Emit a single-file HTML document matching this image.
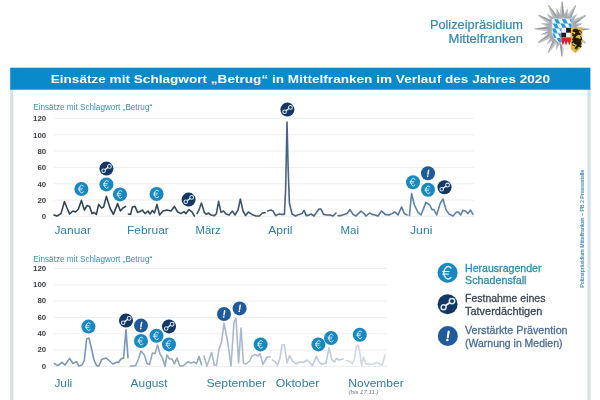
<!DOCTYPE html>
<html lang="de"><head><meta charset="utf-8"><title>Einsätze mit Schlagwort Betrug</title>
<style>
html,body{margin:0;padding:0;background:#fff;}
body{width:600px;height:400px;overflow:hidden;font-family:"Liberation Sans", sans-serif;}
svg{display:block;font-family:"Liberation Sans", sans-serif;will-change:transform;filter:blur(0.4px);}
</style></head><body>
<svg width="600" height="400" viewBox="0 0 600 400">
<rect width="600" height="400" fill="#ffffff"/>
<rect x="10.2" y="89" width="3.2" height="311" fill="#d2e2e8"/>
<rect x="587.4" y="89" width="3.2" height="311" fill="#d2e2e8"/>
<rect x="10.2" y="67.7" width="580.2" height="22" fill="#0a8acb"/>
<text x="50.7" y="83" font-size="11" fill="#ffffff" font-weight="bold" textLength="499.3" lengthAdjust="spacingAndGlyphs">Einsätze mit Schlagwort „Betrug“ in Mittelfranken im Verlauf des Jahres 2020</text>
<text x="429.9" y="28.7" font-size="12.7" fill="#3089b6" textLength="93.1" lengthAdjust="spacingAndGlyphs" stroke="#3089b6" stroke-width="0.2">Polizeipräsidium</text>
<text x="448.6" y="42.7" font-size="12.7" fill="#3089b6" textLength="74.4" lengthAdjust="spacingAndGlyphs" stroke="#3089b6" stroke-width="0.2">Mittelfranken</text>
<line x1="54" y1="118.40" x2="474" y2="118.40" stroke="#ecedef" stroke-width="1"/>
<text x="46.2" y="121.25" font-size="7.9" fill="#3f4248" font-weight="bold" text-anchor="end">120</text>
<line x1="54" y1="134.73" x2="474" y2="134.73" stroke="#ecedef" stroke-width="1"/>
<text x="46.2" y="137.58" font-size="7.9" fill="#3f4248" font-weight="bold" text-anchor="end">100</text>
<line x1="54" y1="151.06" x2="474" y2="151.06" stroke="#ecedef" stroke-width="1"/>
<text x="46.2" y="153.91" font-size="7.9" fill="#3f4248" font-weight="bold" text-anchor="end">80</text>
<line x1="54" y1="167.39" x2="474" y2="167.39" stroke="#ecedef" stroke-width="1"/>
<text x="46.2" y="170.24" font-size="7.9" fill="#3f4248" font-weight="bold" text-anchor="end">60</text>
<line x1="54" y1="183.72" x2="474" y2="183.72" stroke="#ecedef" stroke-width="1"/>
<text x="46.2" y="186.57" font-size="7.9" fill="#3f4248" font-weight="bold" text-anchor="end">40</text>
<line x1="54" y1="200.05" x2="474" y2="200.05" stroke="#ecedef" stroke-width="1"/>
<text x="46.2" y="202.9" font-size="7.9" fill="#3f4248" font-weight="bold" text-anchor="end">20</text>
<line x1="54" y1="216.38" x2="474" y2="216.38" stroke="#ecedef" stroke-width="1"/>
<text x="46.2" y="219.23" font-size="7.9" fill="#3f4248" font-weight="bold" text-anchor="end">0</text>
<text x="33.2" y="109.7" font-size="9.0" fill="#3a8fb9" textLength="119" lengthAdjust="spacingAndGlyphs">Einsätze mit Schlagwort „Betrug“</text>
<line x1="54" y1="268.40" x2="387" y2="268.40" stroke="#ecedef" stroke-width="1"/>
<text x="46.2" y="270.75" font-size="7.9" fill="#3f4248" font-weight="bold" text-anchor="end">120</text>
<line x1="54" y1="284.73" x2="387" y2="284.73" stroke="#ecedef" stroke-width="1"/>
<text x="46.2" y="287.08" font-size="7.9" fill="#3f4248" font-weight="bold" text-anchor="end">100</text>
<line x1="54" y1="301.06" x2="387" y2="301.06" stroke="#ecedef" stroke-width="1"/>
<text x="46.2" y="303.41" font-size="7.9" fill="#3f4248" font-weight="bold" text-anchor="end">80</text>
<line x1="54" y1="317.39" x2="387" y2="317.39" stroke="#ecedef" stroke-width="1"/>
<text x="46.2" y="319.74" font-size="7.9" fill="#3f4248" font-weight="bold" text-anchor="end">60</text>
<line x1="54" y1="333.72" x2="387" y2="333.72" stroke="#ecedef" stroke-width="1"/>
<text x="46.2" y="336.07" font-size="7.9" fill="#3f4248" font-weight="bold" text-anchor="end">40</text>
<line x1="54" y1="350.05" x2="387" y2="350.05" stroke="#ecedef" stroke-width="1"/>
<text x="46.2" y="352.4" font-size="7.9" fill="#3f4248" font-weight="bold" text-anchor="end">20</text>
<line x1="54" y1="366.38" x2="387" y2="366.38" stroke="#ecedef" stroke-width="1"/>
<text x="46.2" y="368.73" font-size="7.9" fill="#3f4248" font-weight="bold" text-anchor="end">0</text>
<text x="33.2" y="262.3" font-size="9.0" fill="#3a8fb9" textLength="119" lengthAdjust="spacingAndGlyphs">Einsätze mit Schlagwort „Betrug“</text>
<path d="M54,215 L57,216 L61,213.6 L64.4,201.6 L67,208 L69.6,214 L73,211 L75.6,212 L78.4,209 L81.4,200.4 L84.4,210 L87,205.6 L89.6,206.4 L92,213.6 L94,212.4 L96.4,214.4 L98.6,204.4 L101.6,208 L103.6,207 L106.4,196.4 L110,208 L113.4,214.4 L117.6,203.6 L120.4,211 L123,208 L125.6,206.4" fill="none" stroke="#2f4458" stroke-width="1.6" stroke-linejoin="round" stroke-linecap="round"/>
<path d="M128.4,214 L130.6,214.4 L132.4,207 L135,206.4 L137.6,212.4 L140,211.6 L142.4,210 L145,213.6 L148,211 L150,214 L152.4,210.4 L154.4,213 L157,204.4 L159.6,215 L163,211 L167,210 L171,211 L174.4,206.4 L177.6,212 L181,213.6 L184,211.6 L186,213.6 L189,209.6 L192,212 L194.4,216" fill="none" stroke="#34495f" stroke-width="1.6" stroke-linejoin="round" stroke-linecap="round"/>
<path d="M197,213.6 L199,210 L201.4,203 L204.4,212.4 L206.4,214.4 L208.4,213 L211,215 L214.4,215.6 L216.4,213.6 L218.6,201.4 L221,212.4 L223.6,211 L226,214 L229,215 L232.4,211 L235,215 L238,210 L240.4,199 L243,211 L245.6,215.6 L248.4,212 L252,214.4 L256,216 L259.4,216 L262.4,213 L265,212.6" fill="none" stroke="#3d556f" stroke-width="1.6" stroke-linejoin="round" stroke-linecap="round"/>
<path d="M267.6,211 L271,210 L273,211 L275.6,215.6 L279,214 L281.6,214.4 L284.4,214.4 L285.6,190 L287,122 L288.2,170 L289.4,203 L292,214 L295.6,216 L299,214.4 L302,213.6 L304,210.4 L306.4,215.6 L309,215 L311,214 L314,216 L316.6,212.4 L319,209 L321,209 L323.6,214.4 L327,215 L330,215 L333,216 L336,213" fill="none" stroke="#466588" stroke-width="1.6" stroke-linejoin="round" stroke-linecap="round"/>
<path d="M338,215.6 L341,215.6 L344,214.4 L347,213.6 L350,209.6 L353,214.4 L356,216 L358.4,213.6 L361,211 L364,213.6 L366,216 L369.6,213 L372,214.4 L375,215 L378,216 L381.6,211 L385,214.4 L389,215 L392,213.6 L395,212 L398,215 L401.6,207 L404.4,213.6 L407,215" fill="none" stroke="#52759b" stroke-width="1.6" stroke-linejoin="round" stroke-linecap="round"/>
<path d="M409.4,215.6 L411.6,193.6 L414.4,205 L418,212.4 L421,215 L426,202.4 L429.6,205 L432,209.6 L434,209.6 L436.6,215 L440.4,203 L443,199 L446,209.6 L449,214 L453,216 L456,212.4 L458.4,212 L460.6,215 L463,210.4 L465.6,211 L468,213.6 L470.4,210 L473,214.4" fill="none" stroke="#5d84ad" stroke-width="1.6" stroke-linejoin="round" stroke-linecap="round"/>
<path d="M54.4,363.6 L58,365.6 L62,362.4 L65,365 L69.6,358.4 L73,363.6 L76.4,361.6 L79,366 L82,365 L84.4,360 L86.6,339 L89,338 L91.6,349 L94,360 L96.6,365.6 L99,366 L101.6,359.6 L106,358 L109.6,361 L113,364 L116,362.4 L118.4,362.4 L121,359 L123.6,358 L126,329.6 L128,357.6" fill="none" stroke="#7a95b5" stroke-width="1.6" stroke-linejoin="round" stroke-linecap="round"/>
<path d="M130.4,366 L135.6,365.6 L138,360 L141,351 L144.4,355 L147,363.6 L149.6,364.4 L152.4,353 L155,353.6 L157.6,345 L160,354 L162.4,358 L165,366 L167,355 L169.6,359 L172,359 L174.4,364 L177,358 L179.6,365.6 L183,366 L188,361.6 L191,363 L194,362 L196.6,363.6 L199,356.4 L201.6,365" fill="none" stroke="#92a7c3" stroke-width="1.6" stroke-linejoin="round" stroke-linecap="round"/>
<path d="M204,356 L207,366 L211.6,352.4 L214.4,365 L216.4,365.6 L219,349 L221.6,342 L224,323 L228,344 L231,366 L234,322 L236,318.4 L238.6,363 L241,328 L243.4,363 L246,364 L249.6,361 L252,356 L255,354.4 L258,356 L260,353.6 L263,364.4 L267,357 L270,357" fill="none" stroke="#aab8d1" stroke-width="1.6" stroke-linejoin="round" stroke-linecap="round"/>
<path d="M272.4,360 L275,361.6 L277.6,365 L280,358 L282,345 L284.4,345 L287,363 L289.6,355.6 L292.4,361 L296,364 L300,362 L303.6,362.4 L307,360 L309.6,362.4 L312.4,365.6 L316.4,356.4 L319,362 L322,364.4 L326,363 L329,347.6 L332,360 L334.4,362 L336.4,358.4 L339,360 L343,359" fill="none" stroke="#bfcadc" stroke-width="1.6" stroke-linejoin="round" stroke-linecap="round"/>
<path d="M346.4,360.4 L350,361.6 L352.4,363.6 L354.4,359 L356.4,347 L358.4,345 L360,354 L361.6,365.6 L363.4,357 L365.6,363.6 L369,364.4 L373,364 L377,362.4 L380,364.4 L382.4,365 L385,355" fill="none" stroke="#d0d8e5" stroke-width="1.6" stroke-linejoin="round" stroke-linecap="round"/>
<text x="54.4" y="233.9" font-size="11.5" fill="#2f7fa8" textLength="36.6" lengthAdjust="spacingAndGlyphs">Januar</text>
<text x="127.0" y="233.9" font-size="11.5" fill="#2f7fa8" textLength="41.8" lengthAdjust="spacingAndGlyphs">Februar</text>
<text x="195.6" y="233.9" font-size="11.5" fill="#2f7fa8" textLength="25.2" lengthAdjust="spacingAndGlyphs">März</text>
<text x="268.2" y="233.9" font-size="11.5" fill="#2f7fa8" textLength="24.2" lengthAdjust="spacingAndGlyphs">April</text>
<text x="340.5" y="233.9" font-size="11.5" fill="#2f7fa8" textLength="18.5" lengthAdjust="spacingAndGlyphs">Mai</text>
<text x="410.0" y="233.9" font-size="11.5" fill="#2f7fa8" textLength="22.4" lengthAdjust="spacingAndGlyphs">Juni</text>
<text x="54.4" y="386.8" font-size="11.5" fill="#2f7fa8" textLength="17.8" lengthAdjust="spacingAndGlyphs">Juli</text>
<text x="130.6" y="386.8" font-size="11.5" fill="#2f7fa8" textLength="37.0" lengthAdjust="spacingAndGlyphs">August</text>
<text x="206.4" y="386.8" font-size="11.5" fill="#2f7fa8" textLength="59.8" lengthAdjust="spacingAndGlyphs">September</text>
<text x="275.8" y="386.8" font-size="11.5" fill="#2f7fa8" textLength="43.6" lengthAdjust="spacingAndGlyphs">Oktober</text>
<text x="348.3" y="386.8" font-size="11.5" fill="#2f7fa8" textLength="55.4" lengthAdjust="spacingAndGlyphs">November</text>
<text x="348.5" y="394.2" font-size="5.4" fill="#6d7780" font-style="italic" textLength="30" lengthAdjust="spacingAndGlyphs">(bis 17.11.)</text>
<text x="465" y="271.6" font-size="10.6" fill="#2f8ab2" textLength="76.5" lengthAdjust="spacingAndGlyphs" stroke="#2f8ab2" stroke-width="0.28">Herausragender</text>
<text x="465" y="283.9" font-size="10.6" fill="#2f8ab2" textLength="61.5" lengthAdjust="spacingAndGlyphs" stroke="#2f8ab2" stroke-width="0.28">Schadensfall</text>
<text x="465" y="301.9" font-size="10.6" fill="#3a4653" textLength="80.4" lengthAdjust="spacingAndGlyphs" stroke="#3a4653" stroke-width="0.28">Festnahme eines</text>
<text x="465" y="314.5" font-size="10.6" fill="#3a4653" textLength="77.4" lengthAdjust="spacingAndGlyphs" stroke="#3a4653" stroke-width="0.28">Tatverdächtigen</text>
<text x="465" y="334.3" font-size="10.6" fill="#4a6c95" textLength="102.6" lengthAdjust="spacingAndGlyphs" stroke="#4a6c95" stroke-width="0.28">Verstärkte Prävention</text>
<text x="465" y="346.9" font-size="10.6" fill="#4a6c95" textLength="97.5" lengthAdjust="spacingAndGlyphs" stroke="#4a6c95" stroke-width="0.28">(Warnung in Medien)</text>
<text transform="translate(583.8,287.8) rotate(-90)" font-size="5.2" fill="#3f8db6" stroke="#3f8db6" stroke-width="0.12" textLength="118" lengthAdjust="spacingAndGlyphs">Polizeipräsidium Mittelfranken – PB 2 Pressestelle</text>
<g transform="translate(81.4,189) scale(0.700)"><circle r="10.6" fill="#eef8fc"/><circle r="10" fill="#1a88c0"/><g transform="scale(0.88)"><path d="M3.3,-4.75 A4.2,6.2 0 1 0 3.3,4.75" fill="none" stroke="#dcf3ff" stroke-width="1.5" stroke-linecap="round"/><path d="M-4.9,-1.3 H1.5 M-4.9,1.3 H0.9" fill="none" stroke="#dcf3ff" stroke-width="1.2" stroke-linecap="round"/></g></g>
<g transform="translate(106.4,168.6) scale(0.700)"><circle r="10.6" fill="#eef8fc"/><circle r="10" fill="#143763"/><circle cx="-4.0" cy="3.0" r="2.5" fill="none" stroke="#dbe8f5" stroke-width="1.5"/><circle cx="4.4" cy="-3.1" r="2.7" fill="none" stroke="#dbe8f5" stroke-width="1.5"/><path d="M-1.5,1.1 L1.7,-1.2" stroke="#eef5fc" stroke-width="1.9" stroke-linecap="round"/></g>
<g transform="translate(106.4,184.4) scale(0.700)"><circle r="10.6" fill="#eef8fc"/><circle r="10" fill="#1a88c0"/><g transform="scale(0.88)"><path d="M3.3,-4.75 A4.2,6.2 0 1 0 3.3,4.75" fill="none" stroke="#dcf3ff" stroke-width="1.5" stroke-linecap="round"/><path d="M-4.9,-1.3 H1.5 M-4.9,1.3 H0.9" fill="none" stroke="#dcf3ff" stroke-width="1.2" stroke-linecap="round"/></g></g>
<g transform="translate(120,194.4) scale(0.700)"><circle r="10.6" fill="#eef8fc"/><circle r="10" fill="#1a88c0"/><g transform="scale(0.88)"><path d="M3.3,-4.75 A4.2,6.2 0 1 0 3.3,4.75" fill="none" stroke="#dcf3ff" stroke-width="1.5" stroke-linecap="round"/><path d="M-4.9,-1.3 H1.5 M-4.9,1.3 H0.9" fill="none" stroke="#dcf3ff" stroke-width="1.2" stroke-linecap="round"/></g></g>
<g transform="translate(156.6,194) scale(0.700)"><circle r="10.6" fill="#eef8fc"/><circle r="10" fill="#1a88c0"/><g transform="scale(0.88)"><path d="M3.3,-4.75 A4.2,6.2 0 1 0 3.3,4.75" fill="none" stroke="#dcf3ff" stroke-width="1.5" stroke-linecap="round"/><path d="M-4.9,-1.3 H1.5 M-4.9,1.3 H0.9" fill="none" stroke="#dcf3ff" stroke-width="1.2" stroke-linecap="round"/></g></g>
<g transform="translate(188.6,199.6) scale(0.700)"><circle r="10.6" fill="#eef8fc"/><circle r="10" fill="#143763"/><circle cx="-4.0" cy="3.0" r="2.5" fill="none" stroke="#dbe8f5" stroke-width="1.5"/><circle cx="4.4" cy="-3.1" r="2.7" fill="none" stroke="#dbe8f5" stroke-width="1.5"/><path d="M-1.5,1.1 L1.7,-1.2" stroke="#eef5fc" stroke-width="1.9" stroke-linecap="round"/></g>
<g transform="translate(287.4,109.6) scale(0.700)"><circle r="10.6" fill="#eef8fc"/><circle r="10" fill="#143763"/><circle cx="-4.0" cy="3.0" r="2.5" fill="none" stroke="#dbe8f5" stroke-width="1.5"/><circle cx="4.4" cy="-3.1" r="2.7" fill="none" stroke="#dbe8f5" stroke-width="1.5"/><path d="M-1.5,1.1 L1.7,-1.2" stroke="#eef5fc" stroke-width="1.9" stroke-linecap="round"/></g>
<g transform="translate(413,182.2) scale(0.700)"><circle r="10.6" fill="#eef8fc"/><circle r="10" fill="#1a88c0"/><g transform="scale(0.88)"><path d="M3.3,-4.75 A4.2,6.2 0 1 0 3.3,4.75" fill="none" stroke="#dcf3ff" stroke-width="1.5" stroke-linecap="round"/><path d="M-4.9,-1.3 H1.5 M-4.9,1.3 H0.9" fill="none" stroke="#dcf3ff" stroke-width="1.2" stroke-linecap="round"/></g></g>
<g transform="translate(428,173.3) scale(0.700)"><circle r="10.6" fill="#eef8fc"/><circle r="10" fill="#1f5a9a"/><path d="M0.9,-4.5 L0.0,1.2" stroke="#ffffff" stroke-width="2.1" stroke-linecap="round"/><circle cx="-0.45" cy="4.0" r="1.25" fill="#ffffff"/></g>
<g transform="translate(428,189.8) scale(0.700)"><circle r="10.6" fill="#eef8fc"/><circle r="10" fill="#1a88c0"/><g transform="scale(0.88)"><path d="M3.3,-4.75 A4.2,6.2 0 1 0 3.3,4.75" fill="none" stroke="#dcf3ff" stroke-width="1.5" stroke-linecap="round"/><path d="M-4.9,-1.3 H1.5 M-4.9,1.3 H0.9" fill="none" stroke="#dcf3ff" stroke-width="1.2" stroke-linecap="round"/></g></g>
<g transform="translate(444.5,187.2) scale(0.700)"><circle r="10.6" fill="#eef8fc"/><circle r="10" fill="#143763"/><circle cx="-4.0" cy="3.0" r="2.5" fill="none" stroke="#dbe8f5" stroke-width="1.5"/><circle cx="4.4" cy="-3.1" r="2.7" fill="none" stroke="#dbe8f5" stroke-width="1.5"/><path d="M-1.5,1.1 L1.7,-1.2" stroke="#eef5fc" stroke-width="1.9" stroke-linecap="round"/></g>
<g transform="translate(88.4,326.6) scale(0.700)"><circle r="10.6" fill="#eef8fc"/><circle r="10" fill="#1a88c0"/><g transform="scale(0.88)"><path d="M3.3,-4.75 A4.2,6.2 0 1 0 3.3,4.75" fill="none" stroke="#dcf3ff" stroke-width="1.5" stroke-linecap="round"/><path d="M-4.9,-1.3 H1.5 M-4.9,1.3 H0.9" fill="none" stroke="#dcf3ff" stroke-width="1.2" stroke-linecap="round"/></g></g>
<g transform="translate(126,320.6) scale(0.700)"><circle r="10.6" fill="#eef8fc"/><circle r="10" fill="#143763"/><circle cx="-4.0" cy="3.0" r="2.5" fill="none" stroke="#dbe8f5" stroke-width="1.5"/><circle cx="4.4" cy="-3.1" r="2.7" fill="none" stroke="#dbe8f5" stroke-width="1.5"/><path d="M-1.5,1.1 L1.7,-1.2" stroke="#eef5fc" stroke-width="1.9" stroke-linecap="round"/></g>
<g transform="translate(141,325.6) scale(0.700)"><circle r="10.6" fill="#eef8fc"/><circle r="10" fill="#1f5a9a"/><path d="M0.9,-4.5 L0.0,1.2" stroke="#ffffff" stroke-width="2.1" stroke-linecap="round"/><circle cx="-0.45" cy="4.0" r="1.25" fill="#ffffff"/></g>
<g transform="translate(141,341) scale(0.700)"><circle r="10.6" fill="#eef8fc"/><circle r="10" fill="#1a88c0"/><g transform="scale(0.88)"><path d="M3.3,-4.75 A4.2,6.2 0 1 0 3.3,4.75" fill="none" stroke="#dcf3ff" stroke-width="1.5" stroke-linecap="round"/><path d="M-4.9,-1.3 H1.5 M-4.9,1.3 H0.9" fill="none" stroke="#dcf3ff" stroke-width="1.2" stroke-linecap="round"/></g></g>
<g transform="translate(156.5,335.8) scale(0.700)"><circle r="10.6" fill="#eef8fc"/><circle r="10" fill="#1a88c0"/><g transform="scale(0.88)"><path d="M3.3,-4.75 A4.2,6.2 0 1 0 3.3,4.75" fill="none" stroke="#dcf3ff" stroke-width="1.5" stroke-linecap="round"/><path d="M-4.9,-1.3 H1.5 M-4.9,1.3 H0.9" fill="none" stroke="#dcf3ff" stroke-width="1.2" stroke-linecap="round"/></g></g>
<g transform="translate(169,326.4) scale(0.700)"><circle r="10.6" fill="#eef8fc"/><circle r="10" fill="#143763"/><circle cx="-4.0" cy="3.0" r="2.5" fill="none" stroke="#dbe8f5" stroke-width="1.5"/><circle cx="4.4" cy="-3.1" r="2.7" fill="none" stroke="#dbe8f5" stroke-width="1.5"/><path d="M-1.5,1.1 L1.7,-1.2" stroke="#eef5fc" stroke-width="1.9" stroke-linecap="round"/></g>
<g transform="translate(169,344.4) scale(0.700)"><circle r="10.6" fill="#eef8fc"/><circle r="10" fill="#1a88c0"/><g transform="scale(0.88)"><path d="M3.3,-4.75 A4.2,6.2 0 1 0 3.3,4.75" fill="none" stroke="#dcf3ff" stroke-width="1.5" stroke-linecap="round"/><path d="M-4.9,-1.3 H1.5 M-4.9,1.3 H0.9" fill="none" stroke="#dcf3ff" stroke-width="1.2" stroke-linecap="round"/></g></g>
<g transform="translate(224,314) scale(0.700)"><circle r="10.6" fill="#eef8fc"/><circle r="10" fill="#1f5a9a"/><path d="M0.9,-4.5 L0.0,1.2" stroke="#ffffff" stroke-width="2.1" stroke-linecap="round"/><circle cx="-0.45" cy="4.0" r="1.25" fill="#ffffff"/></g>
<g transform="translate(239.6,308.4) scale(0.700)"><circle r="10.6" fill="#eef8fc"/><circle r="10" fill="#1f5a9a"/><path d="M0.9,-4.5 L0.0,1.2" stroke="#ffffff" stroke-width="2.1" stroke-linecap="round"/><circle cx="-0.45" cy="4.0" r="1.25" fill="#ffffff"/></g>
<g transform="translate(260.6,344.4) scale(0.700)"><circle r="10.6" fill="#eef8fc"/><circle r="10" fill="#1a88c0"/><g transform="scale(0.88)"><path d="M3.3,-4.75 A4.2,6.2 0 1 0 3.3,4.75" fill="none" stroke="#dcf3ff" stroke-width="1.5" stroke-linecap="round"/><path d="M-4.9,-1.3 H1.5 M-4.9,1.3 H0.9" fill="none" stroke="#dcf3ff" stroke-width="1.2" stroke-linecap="round"/></g></g>
<g transform="translate(318.4,344.4) scale(0.700)"><circle r="10.6" fill="#eef8fc"/><circle r="10" fill="#1a88c0"/><g transform="scale(0.88)"><path d="M3.3,-4.75 A4.2,6.2 0 1 0 3.3,4.75" fill="none" stroke="#dcf3ff" stroke-width="1.5" stroke-linecap="round"/><path d="M-4.9,-1.3 H1.5 M-4.9,1.3 H0.9" fill="none" stroke="#dcf3ff" stroke-width="1.2" stroke-linecap="round"/></g></g>
<g transform="translate(331,338) scale(0.700)"><circle r="10.6" fill="#eef8fc"/><circle r="10" fill="#1a88c0"/><g transform="scale(0.88)"><path d="M3.3,-4.75 A4.2,6.2 0 1 0 3.3,4.75" fill="none" stroke="#dcf3ff" stroke-width="1.5" stroke-linecap="round"/><path d="M-4.9,-1.3 H1.5 M-4.9,1.3 H0.9" fill="none" stroke="#dcf3ff" stroke-width="1.2" stroke-linecap="round"/></g></g>
<g transform="translate(359.8,334.8) scale(0.700)"><circle r="10.6" fill="#eef8fc"/><circle r="10" fill="#1a88c0"/><g transform="scale(0.88)"><path d="M3.3,-4.75 A4.2,6.2 0 1 0 3.3,4.75" fill="none" stroke="#dcf3ff" stroke-width="1.5" stroke-linecap="round"/><path d="M-4.9,-1.3 H1.5 M-4.9,1.3 H0.9" fill="none" stroke="#dcf3ff" stroke-width="1.2" stroke-linecap="round"/></g></g>
<g transform="translate(447.6,272.8) scale(1.000)"><circle r="10.6" fill="#eef8fc"/><circle r="10" fill="#1a88c0"/><path d="M3.3,-4.75 A4.2,6.2 0 1 0 3.3,4.75" fill="none" stroke="#dcf3ff" stroke-width="1.5" stroke-linecap="round"/><path d="M-4.9,-1.3 H1.5 M-4.9,1.3 H0.9" fill="none" stroke="#dcf3ff" stroke-width="1.2" stroke-linecap="round"/></g>
<g transform="translate(447.6,304.2) scale(1.000)"><circle r="10.6" fill="#eef8fc"/><circle r="10" fill="#143763"/><circle cx="-4.0" cy="3.0" r="2.5" fill="none" stroke="#dbe8f5" stroke-width="1.5"/><circle cx="4.4" cy="-3.1" r="2.7" fill="none" stroke="#dbe8f5" stroke-width="1.5"/><path d="M-1.5,1.1 L1.7,-1.2" stroke="#eef5fc" stroke-width="1.9" stroke-linecap="round"/></g>
<g transform="translate(447.8,336) scale(1.000)"><circle r="10.6" fill="#eef8fc"/><circle r="10" fill="#1f5a9a"/><path d="M0.9,-4.5 L0.0,1.2" stroke="#ffffff" stroke-width="2.1" stroke-linecap="round"/><circle cx="-0.45" cy="4.0" r="1.25" fill="#ffffff"/></g>
<defs>
<pattern id="loz" width="7.6" height="9.6" patternUnits="userSpaceOnUse" patternTransform="translate(550.2,18.8) skewX(28)"><rect width="7.6" height="9.6" fill="#2799dd"/><path d="M0,0 H3.8 V4.8 H0 Z M3.8,4.8 H7.6 V9.6 H3.8 Z" fill="#eef7fd"/></pattern>
<radialGradient id="disc" cx="50%" cy="50%" r="50%"><stop offset="0" stop-color="#c9ccd0"/><stop offset="1" stop-color="#a4a8ad"/></radialGradient>
</defs>
<g>
<path d="M567.69,7.75 L563.71,15.10 L562.0,29.0 Z" fill="#b9bcc1"/>
<path d="M567.69,7.75 L567.47,16.11 L562.0,29.0 Z" fill="#9a9ea4"/>
<path d="M577.56,13.44 L570.43,17.82 L562.0,29.0 Z" fill="#b9bcc1"/>
<path d="M577.56,13.44 L573.18,20.57 L562.0,29.0 Z" fill="#9a9ea4"/>
<path d="M583.25,23.31 L574.89,23.53 L562.0,29.0 Z" fill="#b9bcc1"/>
<path d="M583.25,23.31 L575.90,27.29 L562.0,29.0 Z" fill="#9a9ea4"/>
<path d="M583.25,34.69 L575.90,30.71 L562.0,29.0 Z" fill="#b9bcc1"/>
<path d="M583.25,34.69 L574.89,34.47 L562.0,29.0 Z" fill="#9a9ea4"/>
<path d="M577.56,44.56 L573.18,37.43 L562.0,29.0 Z" fill="#b9bcc1"/>
<path d="M577.56,44.56 L570.43,40.18 L562.0,29.0 Z" fill="#9a9ea4"/>
<path d="M567.69,50.25 L567.47,41.89 L562.0,29.0 Z" fill="#b9bcc1"/>
<path d="M567.69,50.25 L563.71,42.90 L562.0,29.0 Z" fill="#9a9ea4"/>
<path d="M556.31,50.25 L560.29,42.90 L562.0,29.0 Z" fill="#b9bcc1"/>
<path d="M556.31,50.25 L556.53,41.89 L562.0,29.0 Z" fill="#9a9ea4"/>
<path d="M546.44,44.56 L553.57,40.18 L562.0,29.0 Z" fill="#b9bcc1"/>
<path d="M546.44,44.56 L550.82,37.43 L562.0,29.0 Z" fill="#9a9ea4"/>
<path d="M540.75,34.69 L549.11,34.47 L562.0,29.0 Z" fill="#b9bcc1"/>
<path d="M540.75,34.69 L548.10,30.71 L562.0,29.0 Z" fill="#9a9ea4"/>
<path d="M540.75,23.31 L548.10,27.29 L562.0,29.0 Z" fill="#b9bcc1"/>
<path d="M540.75,23.31 L549.11,23.53 L562.0,29.0 Z" fill="#9a9ea4"/>
<path d="M546.44,13.44 L550.82,20.57 L562.0,29.0 Z" fill="#b9bcc1"/>
<path d="M546.44,13.44 L553.57,17.82 L562.0,29.0 Z" fill="#9a9ea4"/>
<path d="M556.31,7.75 L556.53,16.11 L562.0,29.0 Z" fill="#b9bcc1"/>
<path d="M556.31,7.75 L560.29,15.10 L562.0,29.0 Z" fill="#9a9ea4"/>
<path d="M562.00,1.20 L561.38,1.81 L559.45,15.23 L562.0,29.0 Z" fill="#c0c3c7"/>
<path d="M562.00,1.20 L562.62,1.81 L564.55,15.23 L562.0,29.0 Z" fill="#979ba1"/>
<path d="M575.90,4.92 L575.06,5.14 L566.67,15.80 L562.0,29.0 Z" fill="#c0c3c7"/>
<path d="M575.90,4.92 L576.13,5.76 L571.09,18.35 L562.0,29.0 Z" fill="#979ba1"/>
<path d="M586.08,15.10 L585.24,14.87 L572.65,19.91 L562.0,29.0 Z" fill="#c0c3c7"/>
<path d="M586.08,15.10 L585.86,15.94 L575.20,24.33 L562.0,29.0 Z" fill="#979ba1"/>
<path d="M589.80,29.00 L589.19,28.38 L575.77,26.45 L562.0,29.0 Z" fill="#c0c3c7"/>
<path d="M589.80,29.00 L589.19,29.62 L575.77,31.55 L562.0,29.0 Z" fill="#979ba1"/>
<path d="M586.08,42.90 L585.86,42.06 L575.20,33.67 L562.0,29.0 Z" fill="#c0c3c7"/>
<path d="M586.08,42.90 L585.24,43.13 L572.65,38.09 L562.0,29.0 Z" fill="#979ba1"/>
<path d="M575.90,53.08 L576.13,52.24 L571.09,39.65 L562.0,29.0 Z" fill="#c0c3c7"/>
<path d="M575.90,53.08 L575.06,52.86 L566.67,42.20 L562.0,29.0 Z" fill="#979ba1"/>
<path d="M562.00,56.80 L562.62,56.19 L564.55,42.77 L562.0,29.0 Z" fill="#c0c3c7"/>
<path d="M562.00,56.80 L561.38,56.19 L559.45,42.77 L562.0,29.0 Z" fill="#979ba1"/>
<path d="M548.10,53.08 L548.94,52.86 L557.33,42.20 L562.0,29.0 Z" fill="#c0c3c7"/>
<path d="M548.10,53.08 L547.87,52.24 L552.91,39.65 L562.0,29.0 Z" fill="#979ba1"/>
<path d="M537.92,42.90 L538.76,43.13 L551.35,38.09 L562.0,29.0 Z" fill="#c0c3c7"/>
<path d="M537.92,42.90 L538.14,42.06 L548.80,33.67 L562.0,29.0 Z" fill="#979ba1"/>
<path d="M534.20,29.00 L534.81,29.62 L548.23,31.55 L562.0,29.0 Z" fill="#c0c3c7"/>
<path d="M534.20,29.00 L534.81,28.38 L548.23,26.45 L562.0,29.0 Z" fill="#979ba1"/>
<path d="M537.92,15.10 L538.14,15.94 L548.80,24.33 L562.0,29.0 Z" fill="#c0c3c7"/>
<path d="M537.92,15.10 L538.76,14.87 L551.35,19.91 L562.0,29.0 Z" fill="#979ba1"/>
<path d="M548.10,4.92 L547.87,5.76 L552.91,18.35 L562.0,29.0 Z" fill="#c0c3c7"/>
<path d="M548.10,4.92 L548.94,5.14 L557.33,15.80 L562.0,29.0 Z" fill="#979ba1"/>
<circle cx="562.0" cy="29.0" r="14.4" fill="url(#disc)"/>
<path d="M552.2,18.8 H571.8 V28 H561.3 V43.6 C556.5,41.5 552.6,37.5 552.2,32 Z" fill="url(#loz)" stroke="#e8eef3" stroke-width="0.5"/>
<rect x="561.3" y="27.8" width="9.6" height="9.8" fill="#1c1c20"/>
<rect x="561.3" y="27.8" width="4.8" height="4.9" fill="#f6f6f6"/>
<rect x="566.1" y="32.7" width="4.8" height="4.9" fill="#f6f6f6"/>
<path d="M561.3,37.6 H570.9 V47.5 C569.5,49 567.5,49.8 566.3,50 C564,49 562,47 561.3,44 Z" fill="#f3f3f3"/>
<path d="M561.3,37.6 H570.9 V41.2 L569.3,45.6 L567.7,41.2 L566.1,45.6 L564.5,41.2 L562.9,45.6 L561.3,41.2 Z" fill="#d8232e"/>
<path d="M570.9,27.8 H582.3 V41 C582.1,47 578.6,51.2 575.6,52.6 C573.6,51.8 571.8,50.4 570.9,49 Z" fill="#e2bc30"/>
<path d="M572.6,30.2 c1.2,-1.4 3.4,-1.8 5,-1 c1.6,0.8 2.2,2.4 1.6,3.8 l1.8,0.6 l-0.8,1.6 l-2.2,-0.4 c-0.8,1 -2,1.4 -2.6,2.6 c1.6,0.2 3.4,0.6 4.6,1.8 l1.6,-1.4 l0.6,1.8 l-1.4,1.4 c0.6,1.4 0.4,3 -0.6,4.2 l1.6,1.2 l-1,1.4 l-1.8,-1 c-1,0.8 -2.2,1.2 -3.2,2.2 l-1.4,-0.6 c0.6,-1.4 1.8,-2.2 2.6,-3.4 c-1.4,-0.4 -2.8,-1 -3.6,-2.2 l-1.4,1 l-0.6,-1.6 l1.4,-1.2 c-0.4,-1.6 0,-3.2 1,-4.4 l-1.8,-0.8 l0.6,-1.6 l2,0.6 c0.4,-0.8 0.8,-1.4 0.6,-2.2 c-0.6,-0.8 -1.6,-1 -2.6,-0.8 Z" fill="#1f1b10"/>
<path d="M572.2,33.6 l2,0.8 M572.2,39.2 l2.2,0.4 M572.6,45 l2.2,0.8 M579.4,30.6 c1.2,0.2 2,1 2,2.2 M580.6,36.4 c0.8,1 1,2.4 0.4,3.6 M579.8,45.6 c0.8,-0.6 1.4,-1.6 1.4,-2.6 M576,49.6 l1.6,-1.4" fill="none" stroke="#1f1b10" stroke-width="1.0" stroke-linecap="round"/>
</g>
</svg>
</body></html>
